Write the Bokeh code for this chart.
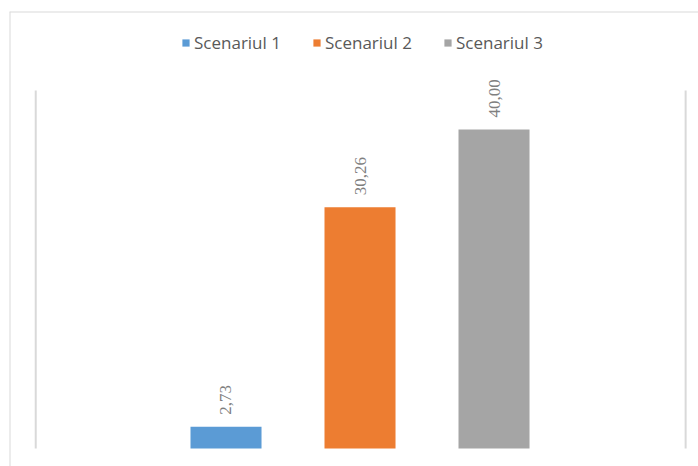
from bokeh.plotting import figure
from bokeh.models import Range1d, Span, Legend, LegendItem, LabelSet, ColumnDataSource
from bokeh.embed import file_html
from bokeh.resources import INLINE

scenarios = ["Scenariul 1", "Scenariul 2", "Scenariul 3"]
values = [2.73, 30.26, 40.00]
labels = ["2,73", "30,26", "40,00"]
colors = ["#5b9bd5", "#ed7d31", "#a5a5a5"]

# value axis limit and horizontal extent of the plot area (in bar-position units)
y_max = 44.9
area_left, area_right = -0.42, 4.43

xs = list(range(1, len(scenarios) + 1))
src = ColumnDataSource(dict(x=xs, name=scenarios, top=values, label=labels, color=colors))

p = figure(width=698, height=466, output_backend="svg", toolbar_location=None,
           x_range=Range1d(-0.6157, 4.526), y_range=Range1d(-2.257, 54.80),
           min_border_left=9, min_border_right=0, min_border_top=11, min_border_bottom=0)
p.xaxis.visible = False
p.yaxis.visible = False
p.xgrid.visible = False
p.ygrid.visible = False
p.outline_line_color = None
p.background_fill_color = "white"
p.border_fill_color = "white"

# chart-area border (top and left edges visible in the reference)
p.add_layout(Span(location=p.x_range.start, dimension="height", line_color="#d9d9d9", line_width=2))
p.add_layout(Span(location=p.y_range.end, dimension="width", line_color="#d9d9d9", line_width=2))

# plot-area side lines
p.segment(x0=[area_left, area_right], y0=[0, 0], x1=[area_left, area_right], y1=[y_max, y_max],
          line_color="#d9d9d9", line_width=2)

r = p.vbar(x="x", top="top", bottom=0, width=0.53, color="color", line_color=None, source=src)

lbl = LabelSet(x="x", y="top", text="label", source=src, angle=1.5708, y_offset=12,
               text_align="left", text_baseline="middle", text_color="#7f7f7f",
               text_font="Open Sans", text_font_size="17px")
p.add_layout(lbl)

items = [LegendItem(label=scenarios[i], renderers=[r], index=i) for i in range(3)]
legend = Legend(items=items, orientation="horizontal", location=(172, 412),
                glyph_width=9, glyph_height=9, label_standoff=4, spacing=31, padding=0, margin=0,
                border_line_color=None, background_fill_alpha=0,
                label_text_font="Open Sans", label_text_font_size="17px", label_text_color="#595959")
p.add_layout(legend, "center")

open("out.html", "w").write(file_html(p, INLINE))
